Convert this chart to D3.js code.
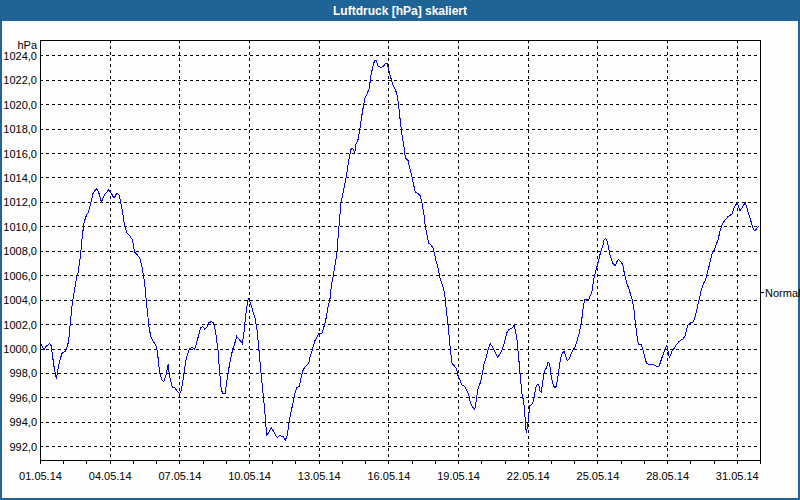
<!DOCTYPE html>
<html>
<head>
<meta charset="utf-8">
<script src="https://cdn.jsdelivr.net/npm/d3@7"></script>
<style>
  html, body { margin: 0; padding: 0; background: #fdfefd; }
  svg { display: block; }
  text { font-family: "Liberation Sans", Arial, sans-serif; }
</style>
</head>
<body>
<svg id="chart" width="800" height="500"></svg>
<script>
// ---- data: hours since 01.05.2014 00:00 and pressure in hPa ----
const hours = [
  0.7, 4.1, 6.5, 10.0, 11.7, 14.1, 16.9, 18.6, 20.7, 22.7, 26.2, 28.2, 29.6, 31.3, 33.4, 35.1, 37.5, 39.3, 41.7, 43.7,
  45.5, 47.9, 50.3, 52.4, 54.8, 58.2, 60.6, 63.4, 66.8, 71.0, 73.7, 76.5, 79.2, 81.6, 83.4, 85.4, 87.5, 89.6, 93.0, 95.4,
  97.8, 100.2, 103.0, 105.4, 108.2, 110.2, 112.6, 114.4, 116.8, 119.5, 121.2, 123.7, 126.1, 127.8, 130.2, 132.3, 134.0, 136.8, 139.2, 141.9,
  144.3, 146.0, 147.8, 150.2, 152.6, 154.7, 157.1, 159.8, 161.5, 163.6, 166.0, 168.1, 170.2, 172.2, 174.3, 177.0, 179.1, 181.2, 183.9, 185.7,
  187.4, 189.1, 191.2, 192.9, 195.0, 197.0, 199.4, 201.2, 203.2, 205.3, 207.4, 209.1, 210.8, 212.2, 214.2, 215.3, 216.7, 218.4, 220.1, 222.5,
  224.6, 226.6, 228.7, 231.1, 232.8, 234.2, 236.3, 239.0, 241.5, 243.5, 245.2, 247.7, 250.4,
  251.1, 253.5, 255.6, 257.3, 259.0, 261.1, 263.2, 265.2, 268.0, 270.0, 272.1, 274.9, 277.6, 279.7, 281.8, 283.8, 285.9, 288.0, 291.1, 293.1,
  295.2, 297.6, 299.7, 301.0, 303.1, 305.2, 306.9, 308.3, 309.7, 311.0, 313.1, 314.8, 316.5, 318.3, 320.0, 321.7, 323.8, 325.2, 326.5, 328.6,
  330.3, 332.0, 334.1, 335.8, 338.2, 340.3, 342.0, 344.1, 345.8, 347.2, 349.3, 352.0, 354.8, 356.8, 358.9, 360.3, 362.0, 364.1, 366.5, 368.6,
  370.6, 372.7, 374.4, 376.1, 377.5, 380.3, 382.0, 383.7, 385.8, 387.8, 390.6, 393.0, 395.1, 396.8, 398.5, 400.2, 401.6, 404.0, 406.1, 407.8,
  409.5, 411.3, 413.3, 415.4, 418.2, 420.2, 421.9, 423.7, 425.7, 427.8, 430.2, 431.9, 434.0, 436.1, 438.8, 440.9, 443.0, 445.0, 447.1, 449.2,
  450.9, 452.6, 455.0, 456.7, 458.8, 461.2, 462.9, 465.0, 467.1, 469.8, 472.6, 475.0, 477.4, 479.5, 481.5, 482.9, 485.3, 488.1, 489.8, 491.2,
  492.9, 494.6, 496.3, 498.1, 499.4, 500.8, 501.5, 502.5, 503.6, 504.9, 506.0, 507.7, 509.1, 510.5, 511.8, 512.9, 515.3, 516.7, 518.0, 519.4,
  520.8, 522.2, 523.5, 524.9, 526.6, 527.7, 529.1, 530.4, 531.8, 533.5, 535.3, 536.6, 538.0, 539.7, 541.5, 543.2, 544.9, 547.0, 549.0, 551.1,
  553.2, 555.2, 557.3, 559.4, 561.4, 562.8, 564.9, 566.9, 569.0, 570.4, 572.5, 574.5, 576.6, 578.7, 580.0, 581.4, 582.8, 584.2, 585.5, 586.9,
  588.6, 590.4, 592.4, 594.5, 595.9, 597.9, 600.0, 602.1, 603.5, 604.8, 606.9, 608.6, 610.3, 612.1, 613.8, 615.2, 616.2, 617.2, 618.6, 621.4,
  622.8, 624.1, 625.5, 626.9, 629.0, 631.0, 633.4, 635.8, 637.9, 640.0, 642.0, 643.8, 645.5, 647.6, 648.9, 650.3, 651.7, 653.1, 654.4, 656.5,
  658.6, 660.6, 662.7, 664.8, 666.8, 668.9, 670.3, 672.3, 674.4, 675.8, 677.9, 679.9, 682.0, 683.4, 685.4, 687.5, 689.6, 691.6, 693.7, 695.1,
  697.1, 699.2, 700.6, 702.7, 704.7, 706.8, 708.9, 710.9, 713.0, 715.1, 717.1, 719.2, 720.6, 721.9, 723.3, 725.4, 727.5, 728.8, 730.2, 731.6,
  733.7, 735.7, 737.8, 739.2, 740.5, 742.6
];
const hPa = [
  1000.4, 999.9, 1000.2, 1000.4, 1000.2, 998.7, 997.5, 998.3, 999.1, 999.6, 999.8, 1000.2, 1000.6, 1002.1, 1003.7, 1004.5, 1005.7, 1006.2, 1007.5, 1009.2,
  1010.3, 1010.9, 1011.2, 1011.9, 1012.7, 1013.1, 1012.8, 1012.0, 1012.6, 1013.0, 1012.7, 1012.3, 1012.7, 1012.6, 1012.0, 1011.1, 1010.0, 1009.5, 1009.2, 1008.9,
  1007.9, 1007.7, 1007.4, 1006.7, 1005.3, 1003.6, 1001.8, 1001.0, 1000.6, 1000.3, 999.8, 998.0, 997.4, 997.3, 997.8, 998.7, 997.7, 996.8, 996.8, 996.5,
  996.3, 996.6, 997.4, 998.8, 999.6, 1000.0, 1000.1, 999.9, 1000.4, 1001.0, 1001.7, 1001.8, 1001.6, 1001.7, 1002.1, 1002.2, 1002.1, 1001.5, 999.9, 998.0,
  996.6, 996.3, 996.3, 997.2, 998.3, 999.2, 1000.0, 1000.4, 1001.0, 1000.8, 1000.6, 1000.4, 1001.3, 1002.5, 1003.6, 1004.1, 1003.9, 1003.5, 1003.0, 1002.4,
  1001.3, 999.6, 997.7, 995.9, 994.4, 992.9, 993.1, 993.5, 993.2, 992.9, 992.7, 992.9, 992.8,
  992.8, 992.5, 992.9, 993.9, 994.7, 995.4, 996.3, 996.8, 996.9, 997.7, 998.3, 998.6, 998.8, 999.5, 1000.0, 1000.6, 1000.9, 1001.2, 1001.2, 1001.7,
  1002.3, 1003.4, 1004.1, 1005.1, 1006.0, 1007.0, 1007.9, 1009.4, 1010.7, 1011.9, 1012.7, 1013.4, 1014.1, 1015.0, 1015.8, 1016.4, 1016.3, 1016.0, 1016.7, 1017.1,
  1017.8, 1018.8, 1019.8, 1020.5, 1020.9, 1021.3, 1022.4, 1023.1, 1023.6, 1023.6, 1023.1, 1023.0, 1023.1, 1023.3, 1023.3, 1022.8, 1022.3, 1021.7, 1021.3, 1020.9,
  1019.9, 1018.3, 1017.3, 1016.5, 1015.6, 1015.4, 1014.8, 1014.3, 1013.5, 1012.8, 1012.7, 1012.5, 1011.8, 1010.9, 1009.8, 1009.2, 1008.6, 1008.5, 1008.2, 1007.7,
  1007.1, 1006.6, 1005.8, 1005.3, 1004.5, 1002.9, 1001.7, 1000.2, 998.8, 998.6, 998.4, 997.8, 997.4, 997.0, 996.9, 996.6, 996.2, 995.5, 995.2, 995.0,
  995.8, 996.7, 997.2, 997.8, 998.7, 999.3, 999.9, 1000.4, 1000.2, 999.8, 999.3, 999.5, 999.9, 1000.4, 1001.0, 1001.4, 1001.6, 1001.7, 1001.9, 1001.5,
  1000.7, 999.3, 997.7, 996.3, 995.8, 995.0, 993.9, 993.1, 993.6, 994.4, 995.3, 995.4, 995.5, 996.0, 996.6, 997.0, 997.1, 996.5, 996.4, 997.2,
  998.0, 998.3, 998.4, 998.9, 998.8, 998.0, 997.4, 997.0, 996.8, 996.9, 997.8, 998.5, 999.2, 999.6, 999.8, 999.4, 999.0, 999.2, 999.6, 999.9,
  1000.2, 1000.7, 1001.3, 1002.1, 1003.4, 1004.0, 1004.0, 1004.0, 1004.4, 1004.7, 1005.8, 1006.4, 1007.0, 1007.7, 1008.1, 1008.3, 1008.9, 1009.0, 1008.9, 1008.5,
  1007.8, 1007.3, 1006.9, 1006.8, 1007.1, 1007.3, 1007.1, 1006.9, 1006.3, 1005.8, 1005.2, 1004.9, 1004.4, 1004.0, 1003.2, 1002.1, 1001.5, 1000.8, 1000.3, 1000.3,
  1000.0, 999.6, 999.1, 998.8, 998.7, 998.7, 998.7, 998.6, 998.5, 998.6, 999.1, 999.5, 999.9, 1000.2, 999.8, 999.3, 999.5, 999.8, 999.9, 1000.2,
  1000.4, 1000.6, 1000.7, 1000.8, 1001.1, 1001.8, 1002.0, 1002.1, 1002.1, 1002.3, 1002.9, 1003.6, 1004.3, 1004.8, 1005.3, 1005.6, 1006.2, 1006.8, 1007.5, 1007.9,
  1008.1, 1008.6, 1008.9, 1009.6, 1010.1, 1010.4, 1010.6, 1010.8, 1010.9, 1011.0, 1011.5, 1011.8, 1011.9, 1011.6, 1011.3, 1011.5, 1011.8, 1011.9, 1011.6, 1011.2,
  1010.7, 1010.1, 1009.7, 1009.7, 1009.8, 1010.0
];
const yTicks = [992, 994, 996, 998, 1000, 1002, 1004, 1006, 1008, 1010, 1012, 1014, 1016, 1018, 1020, 1022, 1024];
const normalValue = 1004.6;
const titleText = "Luftdruck [hPa] skaliert";
const unitText = "hPa";
const normalText = "Normal";

// ---- layout ----
const W = 800, H = 500;
const M = { left: 40, right: 760, top: 40, bottom: 460 };
const svg = d3.select("#chart");
const t0 = Date.UTC(2014, 4, 1), t1 = Date.UTC(2014, 5, 1);
const data = hours.map((h, i) => ({ t: new Date(t0 + h * 3600e3), v: hPa[i] }));

const x = d3.scaleUtc().domain([t0, t1]).range([M.left, M.right]);
const y = d3.scaleLinear().domain([990.88, 1025.25]).range([M.bottom, M.top]);

// background + border + title bar
svg.append("rect").attr("x", 0).attr("y", 0).attr("width", W).attr("height", H).attr("fill", "#fcfdfc");
svg.append("rect").attr("x", 0).attr("y", 0).attr("width", W).attr("height", 21).attr("fill", "#1f6496");
svg.append("rect").attr("x", 1).attr("y", 1).attr("width", W - 2).attr("height", H - 2)
  .attr("fill", "none").attr("stroke", "#1f6496").attr("stroke-width", 2);
svg.append("text").attr("x", 400).attr("y", 14.5).attr("text-anchor", "middle")
  .attr("fill", "#ffffff").attr("font-weight", "bold").attr("font-size", 12).text(titleText);

// grid
const majorDays = d3.utcDay.every(3).range(new Date(t0), new Date(t1)).filter(d => +d < t1);
const g = svg.append("g").attr("shape-rendering", "crispEdges");
g.selectAll("line.hg").data(yTicks).join("line")
  .attr("x1", M.left).attr("x2", M.right)
  .attr("y1", d => Math.round(y(d)) + 0.5).attr("y2", d => Math.round(y(d)) + 0.5)
  .attr("stroke", "#000").attr("stroke-dasharray", "3,3");
g.selectAll("line.vg").data(majorDays.filter(d => +d > t0)).join("line")
  .attr("x1", d => Math.round(x(d)) + 0.5).attr("x2", d => Math.round(x(d)) + 0.5)
  .attr("y1", M.top).attr("y2", M.bottom)
  .attr("stroke", "#000").attr("stroke-dasharray", "3,3");

// y labels
svg.append("g").selectAll("text").data(yTicks).join("text")
  .attr("x", 37).attr("y", d => y(d) + 4.5).attr("text-anchor", "end")
  .attr("font-size", 11).attr("fill", "#000")
  .text(d => d3.format(".1f")(d).replace(".", ","));
svg.append("text").attr("x", 37).attr("y", 49).attr("text-anchor", "end")
  .attr("font-size", 11).attr("fill", "#000").text(unitText);

// x axis
const xAxis = d3.axisBottom(x).tickValues(majorDays).tickFormat(d3.utcFormat("%d.%m.%y")).tickSize(4).tickPadding(8);
const xa = svg.append("g").attr("transform", `translate(0,${M.bottom})`).call(xAxis);
xa.select(".domain").remove();
xa.selectAll("text").attr("font-family", "Liberation Sans, Arial, sans-serif").attr("font-size", 11).attr("fill", "#000");
xa.selectAll("line").attr("shape-rendering", "crispEdges");
const xMinor = d3.axisBottom(x).ticks(d3.utcDay.every(1)).tickFormat("").tickSize(4);
const xm = svg.append("g").attr("transform", `translate(0,${M.bottom})`).call(xMinor);
xm.select(".domain").remove();
xm.selectAll("line").attr("shape-rendering", "crispEdges");

// frame
svg.append("rect").attr("x", M.left + 0.5).attr("y", M.top + 0.5)
  .attr("width", M.right - M.left).attr("height", M.bottom - M.top)
  .attr("fill", "none").attr("stroke", "#000").attr("shape-rendering", "crispEdges");

// normal marker
svg.append("line").attr("x1", M.right).attr("x2", M.right + 4)
  .attr("y1", Math.round(y(normalValue)) + 0.5).attr("y2", Math.round(y(normalValue)) + 0.5)
  .attr("stroke", "#000").attr("shape-rendering", "crispEdges");
svg.append("text").attr("x", M.right + 5).attr("y", y(normalValue) + 4.5)
  .attr("font-size", 11).attr("fill", "#000").text(normalText);

// line
const line = d3.line().x(d => x(d.t)).y(d => y(d.v));
svg.append("path").datum(data).attr("d", line)
  .attr("fill", "none").attr("stroke", "#0000ff").attr("stroke-width", 1)
  .attr("shape-rendering", "crispEdges");
</script>
</body>
</html>
